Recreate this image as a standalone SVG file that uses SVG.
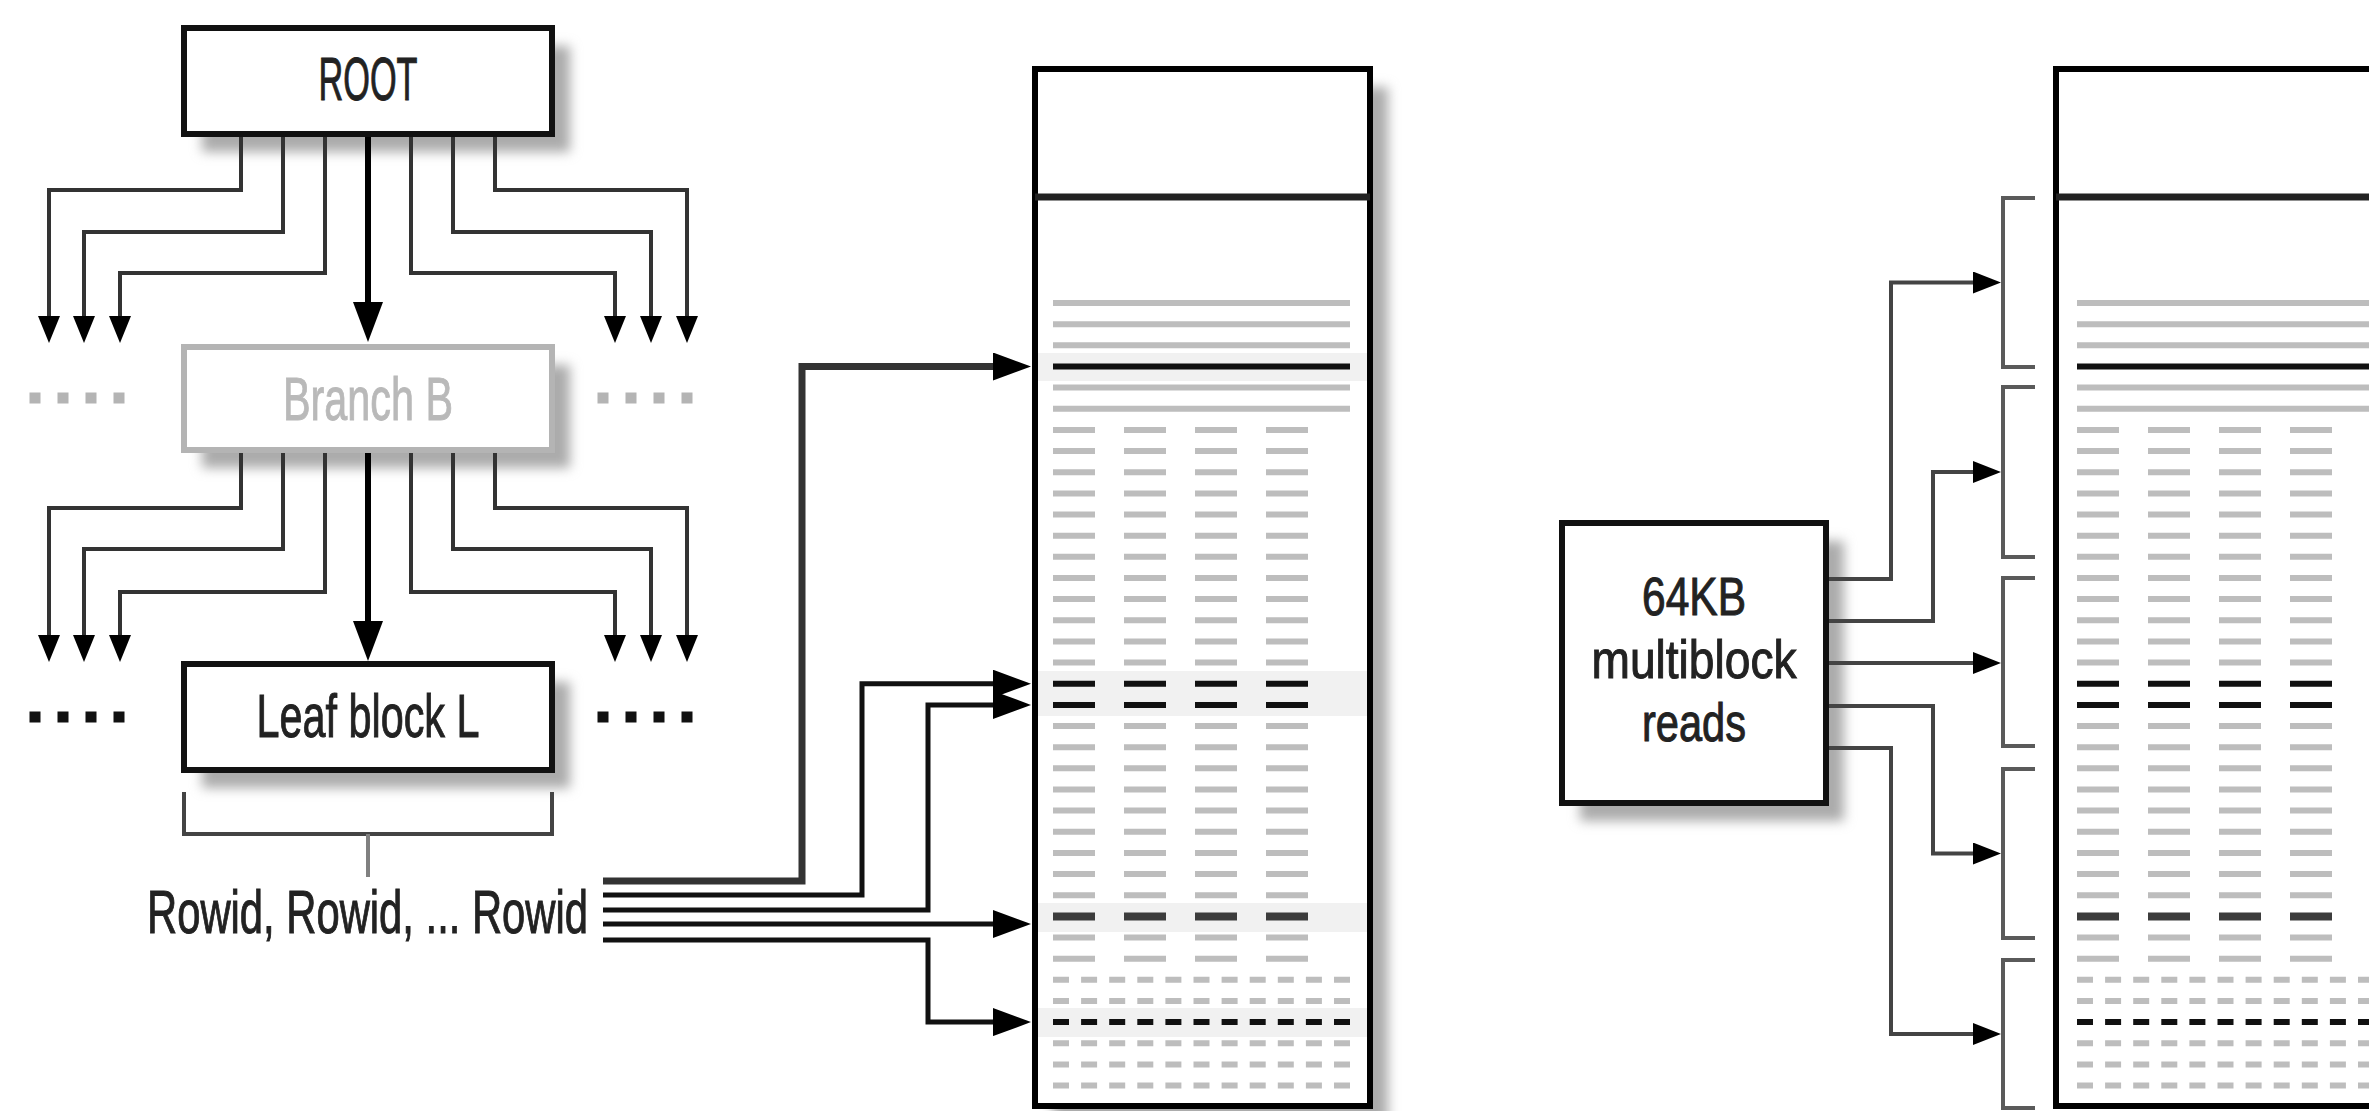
<svg xmlns="http://www.w3.org/2000/svg" xmlns:xlink="http://www.w3.org/1999/xlink" width="2369" height="1111" viewBox="0 0 2369 1111">
<style>
.bg{fill:#fff}
.box{fill:#fff;stroke:#111;stroke-width:6}
.box-faint{fill:#fff;stroke:#b4b4b4;stroke-width:6}
.shadow{fill:#ababab;filter:url(#blur)}
.label{font-family:"Liberation Sans",Arial,sans-serif;font-size:62px;fill:#222;stroke:#222;stroke-width:1;text-anchor:middle}
.label-faint{fill:#b9b9b9;stroke:#b9b9b9}
.label-sm{font-size:53px}
.wire{fill:none;stroke:#333;stroke-width:4}
.wire-thick{fill:none;stroke:#000;stroke-width:6}
.rid{fill:none;stroke:#111;stroke-width:5}
.rid-bold{fill:none;stroke:#333;stroke-width:7}
.read{fill:none;stroke:#444;stroke-width:4}
.bracket{fill:none;stroke:#444;stroke-width:4}
.stem{fill:none;stroke:#808080;stroke-width:4}
.rb{fill:none;stroke:#5a5a5a;stroke-width:4}
.dot-faint{fill:#b4b4b4}
.dot{fill:#111}
.tbl{fill:#fff;stroke:#000;stroke-width:6}
.hdr{fill:none;stroke:#222;stroke-width:7}
.band{fill:#f1f1f1}
.r-gray{fill:none;stroke:#bdbdbd;stroke-width:6}
.r-black{fill:none;stroke:#111;stroke-width:6}
.r-dark{fill:none;stroke:#3c3c3c;stroke-width:8}
.dash{stroke-dasharray:42 29}
.dotted{stroke-dasharray:16 12.1}
</style>
<defs>
<filter id="blur" x="-20%" y="-20%" width="140%" height="140%"><feGaussianBlur stdDeviation="6"/></filter>
<marker id="ah-small" markerUnits="userSpaceOnUse" markerWidth="27" markerHeight="22" refX="17" refY="11" orient="auto"><path d="M0,0 L27,11 L0,22 Z" fill="#000"/></marker>
<marker id="ah-big" markerUnits="userSpaceOnUse" markerWidth="40" markerHeight="30" refX="25" refY="15" orient="auto"><path d="M0,0 L40,15 L0,30 Z" fill="#000"/></marker>
<marker id="ah-table" markerUnits="userSpaceOnUse" markerWidth="38" markerHeight="28" refX="24" refY="14" orient="auto"><path d="M0,0 L38,14 L0,28 Z" fill="#000"/></marker>
<marker id="ah-read" markerUnits="userSpaceOnUse" markerWidth="28" markerHeight="22" refX="18" refY="11" orient="auto"><path d="M0,0 L28,11 L0,22 Z" fill="#000"/></marker>
<g id="rows">
<path class="r-gray" d="M1053,303H1350M1053,324.2H1350M1053,345.3H1350M1053,387.6H1350M1053,408.8H1350"/>
<path class="r-black" d="M1053,366.5H1350"/>
<path class="r-gray dash" d="M1053,429.9H1308M1053,451.1H1308M1053,472.2H1308M1053,493.4H1308M1053,514.5H1308M1053,535.7H1308M1053,556.8H1308M1053,578H1308M1053,599.1H1308M1053,620.3H1308M1053,641.4H1308M1053,662.6H1308M1053,726H1308M1053,747.2H1308M1053,768.3H1308M1053,789.5H1308M1053,810.6H1308M1053,831.8H1308M1053,852.9H1308M1053,874.1H1308M1053,895.2H1308M1053,937.5H1308M1053,958.7H1308"/>
<path class="r-black dash" d="M1053,683.7H1308M1053,704.9H1308"/>
<path class="r-dark dash" d="M1053,916.4H1308"/>
<path class="r-gray dotted" d="M1053,979.8H1350M1053,1001H1350M1053,1043.3H1350M1053,1064.4H1350M1053,1085.6H1350"/>
<path class="r-black dotted" d="M1053,1022.1H1350"/>
</g>
</defs>
<rect class="bg" x="0" y="0" width="2369" height="1111"/>

<g id="root">
<rect class="shadow" x="202" y="46" width="368" height="106"/>
<rect class="box" x="184" y="28" width="368" height="106"/>
<text class="label" x="368" y="100" textLength="99" lengthAdjust="spacingAndGlyphs">ROOT</text>
</g>

<g id="branch-b">
<rect class="shadow" x="202" y="365" width="368" height="103"/>
<rect class="box-faint" x="184" y="347" width="368" height="103"/>
<text class="label label-faint" x="368" y="420" textLength="170" lengthAdjust="spacingAndGlyphs">Branch B</text>
</g>

<g id="branch-dots">
<rect class="dot-faint" x="29.5" y="392.5" width="11" height="11"/>
<rect class="dot-faint" x="57.5" y="392.5" width="11" height="11"/>
<rect class="dot-faint" x="85.5" y="392.5" width="11" height="11"/>
<rect class="dot-faint" x="113.5" y="392.5" width="11" height="11"/>
<rect class="dot-faint" x="597.5" y="392.5" width="11" height="11"/>
<rect class="dot-faint" x="625.5" y="392.5" width="11" height="11"/>
<rect class="dot-faint" x="653.5" y="392.5" width="11" height="11"/>
<rect class="dot-faint" x="681.5" y="392.5" width="11" height="11"/>
</g>

<g id="leaf-l">
<rect class="shadow" x="202" y="682" width="368" height="106"/>
<rect class="box" x="184" y="664" width="368" height="106"/>
<text class="label" x="368" y="737" textLength="223" lengthAdjust="spacingAndGlyphs">Leaf block L</text>
</g>

<g id="leaf-dots">
<rect class="dot" x="29.5" y="711.5" width="11" height="11"/>
<rect class="dot" x="57.5" y="711.5" width="11" height="11"/>
<rect class="dot" x="85.5" y="711.5" width="11" height="11"/>
<rect class="dot" x="113.5" y="711.5" width="11" height="11"/>
<rect class="dot" x="597.5" y="711.5" width="11" height="11"/>
<rect class="dot" x="625.5" y="711.5" width="11" height="11"/>
<rect class="dot" x="653.5" y="711.5" width="11" height="11"/>
<rect class="dot" x="681.5" y="711.5" width="11" height="11"/>
</g>

<g id="rowid-list">
<path class="bracket" d="M184,792V834H552V792"/>
<path class="stem" d="M368,834V877"/>
<text class="label" x="367.5" y="933" textLength="441" lengthAdjust="spacingAndGlyphs">Rowid, Rowid, ... Rowid</text>
</g>

<g id="table-indexed">
<rect class="shadow" x="1053" y="87" width="335" height="1037"/>
<rect class="tbl" x="1035" y="69" width="335" height="1037"/>
<rect class="band" x="1038" y="353" width="329" height="28"/>
<rect class="band" x="1038" y="671" width="329" height="45"/>
<rect class="band" x="1038" y="903" width="329" height="29"/>
<rect class="band" x="1038" y="1008" width="329" height="29"/>
<path class="hdr" d="M1035,197H1370"/>
<use xlink:href="#rows" href="#rows"/>
</g>

<g id="multiblock">
<rect class="shadow" x="1580" y="541" width="264" height="280"/>
<rect class="box" x="1562" y="523" width="264" height="280"/>
<text class="label label-sm" x="1694" y="615" textLength="104" lengthAdjust="spacingAndGlyphs">64KB</text>
<text class="label label-sm" x="1694" y="678" textLength="205" lengthAdjust="spacingAndGlyphs">multiblock</text>
<text class="label label-sm" x="1694" y="741" textLength="104" lengthAdjust="spacingAndGlyphs">reads</text>
</g>

<g id="read-brackets">
<path class="rb" d="M2035,198H2003V367H2035"/>
<path class="rb" d="M2035,387H2003V557H2035"/>
<path class="rb" d="M2035,578H2003V746H2035"/>
<path class="rb" d="M2035,769H2003V938H2035"/>
<path class="rb" d="M2035,960H2003V1108H2035"/>
</g>

<g id="table-scan">
<rect class="tbl" x="2056" y="69" width="340" height="1037"/>
<path class="hdr" d="M2056,197H2369"/>
<use xlink:href="#rows" href="#rows" x="1024"/>
</g>

<g id="connectors">
<path class="wire" marker-end="url(#ah-small)" d="M241,137V190H49V333"/>
<path class="wire" marker-end="url(#ah-small)" d="M283,137V232H84V333"/>
<path class="wire" marker-end="url(#ah-small)" d="M325,137V273H120V333"/>
<path class="wire-thick" marker-end="url(#ah-big)" d="M368,137V327"/>
<path class="wire" marker-end="url(#ah-small)" d="M411,137V273H615V333"/>
<path class="wire" marker-end="url(#ah-small)" d="M453,137V232H651V333"/>
<path class="wire" marker-end="url(#ah-small)" d="M495,137V190H687V333"/>

<path class="wire" marker-end="url(#ah-small)" d="M241,453V508H49V652"/>
<path class="wire" marker-end="url(#ah-small)" d="M283,453V549H84V652"/>
<path class="wire" marker-end="url(#ah-small)" d="M325,453V592H120V652"/>
<path class="wire-thick" marker-end="url(#ah-big)" d="M368,453V646"/>
<path class="wire" marker-end="url(#ah-small)" d="M411,453V592H615V652"/>
<path class="wire" marker-end="url(#ah-small)" d="M453,453V549H651V652"/>
<path class="wire" marker-end="url(#ah-small)" d="M495,453V508H687V652"/>

<path class="rid-bold" marker-end="url(#ah-table)" d="M603,881H802V366.5H1017"/>
<path class="rid" marker-end="url(#ah-table)" d="M603,895H862V683.7H1017"/>
<path class="rid" marker-end="url(#ah-table)" d="M603,910H928V704.9H1017"/>
<path class="rid" marker-end="url(#ah-table)" d="M603,924H1017"/>
<path class="rid" marker-end="url(#ah-table)" d="M603,940H928V1022.1H1017"/>

<path class="read" marker-end="url(#ah-read)" d="M1829,579H1891V282.5H1991"/>
<path class="read" marker-end="url(#ah-read)" d="M1829,621H1933V472H1991"/>
<path class="read" marker-end="url(#ah-read)" d="M1829,663H1991"/>
<path class="read" marker-end="url(#ah-read)" d="M1829,706H1933V853.5H1991"/>
<path class="read" marker-end="url(#ah-read)" d="M1829,748H1891V1034H1991"/>
</g>
</svg>
